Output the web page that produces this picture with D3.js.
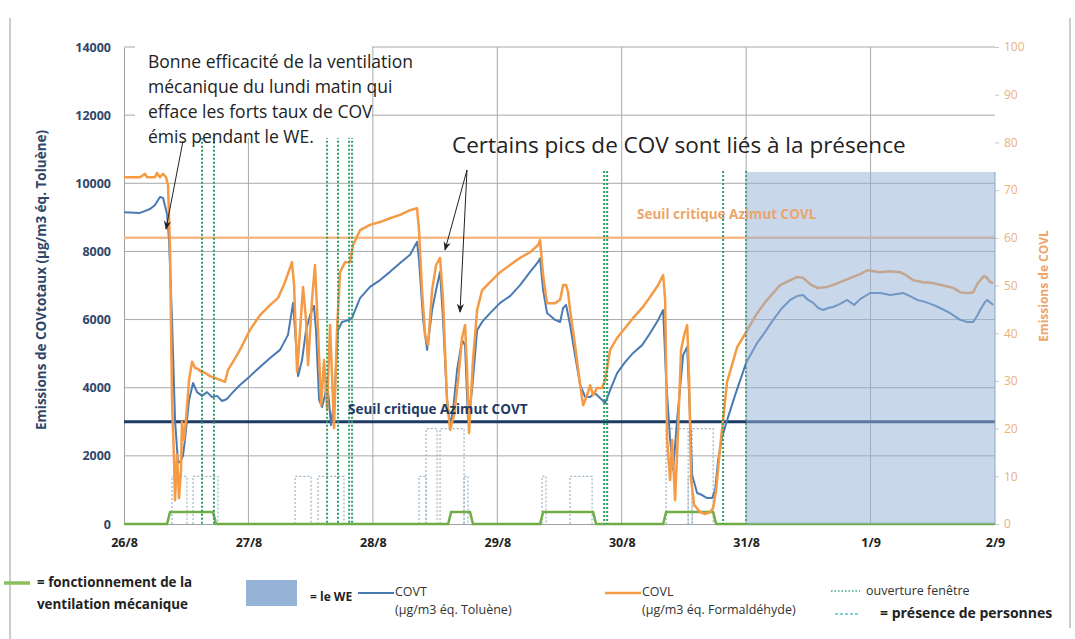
<!DOCTYPE html>
<html>
<head>
<meta charset="utf-8">
<title>COV</title>
<script src="https://d3js.org/d3.v7.min.js"></script>
<style>
  body { margin: 0; background: #fff; }
  svg text { font-family: "Open Sans", sans-serif; }
</style>
</head>
<body>
<div id="chart"></div>
<script>
// jours (axe x en jours depuis le 26/8 0h)
const dayLabels = ["26/8", "27/8", "28/8", "29/8", "30/8", "31/8", "1/9", "2/9"];
const leftTicks = [0, 2000, 4000, 6000, 8000, 10000, 12000, 14000];
const rightTicks = [0, 10, 20, 30, 40, 50, 60, 70, 80, 90, 100];

// COVT en µg/m3 éq. toluène (axe gauche)
const covt = [[0,9150],[0.129,9130],[0.209,9245],[0.249,9360],[0.289,9600],[0.314,9570],[0.346,9100],[0.362,8330],[0.386,5990],[0.410,3050],[0.434,1800],[0.450,1820],[0.474,2000],[0.490,2470],[0.523,3640],[0.555,4140],[0.587,3870],[0.627,3760],[0.667,3870],[0.707,3730],[0.748,3760],[0.788,3610],[0.828,3670],[0.876,3870],[0.932,4080],[1.013,4340],[1.093,4610],[1.174,4870],[1.254,5110],[1.318,5550],[1.359,6490],[1.383,5250],[1.399,4340],[1.431,4810],[1.463,5690],[1.495,6130],[1.527,6400],[1.543,5690],[1.568,3640],[1.592,3430],[1.616,3790],[1.632,4230],[1.664,2900],[1.688,3640],[1.720,5690],[1.752,5930],[1.809,5990],[1.833,6050],[1.897,6630],[1.977,6960],[2.058,7160],[2.138,7400],[2.219,7660],[2.299,7900],[2.355,8280],[2.371,7750],[2.404,5990],[2.436,5110],[2.476,6280],[2.516,7010],[2.540,7400],[2.564,5990],[2.596,3640],[2.621,2900],[2.645,3350],[2.677,4520],[2.717,5400],[2.741,5250],[2.765,3050],[2.797,3930],[2.838,5690],[2.878,5930],[2.942,6190],[3.023,6490],[3.103,6690],[3.183,7010],[3.264,7400],[3.328,7690],[3.344,7800],[3.368,6870],[3.400,6190],[3.465,5990],[3.505,5930],[3.529,6340],[3.553,6430],[3.585,5840],[3.625,4960],[3.666,4080],[3.706,3730],[3.746,3730],[3.786,3840],[3.826,3700],[3.867,3550],[3.907,3930],[3.963,4430],[4.027,4750],[4.092,5020],[4.164,5250],[4.228,5600],[4.293,5990],[4.333,6280],[4.357,4230],[4.389,2470],[4.413,1580],[4.445,3050],[4.494,4960],[4.526,5200],[4.550,3050],[4.566,1440],[4.606,910],[4.646,850],[4.686,760],[4.727,760],[4.751,1000],[4.775,1880],[4.807,2550],[4.847,3050],[4.912,3790],[5.000,4730],[5.088,5310],[5.153,5640],[5.217,5990],[5.289,6340],[5.354,6575],[5.410,6690],[5.458,6720],[5.498,6575],[5.539,6490],[5.579,6340],[5.619,6280],[5.659,6340],[5.699,6370],[5.756,6460],[5.812,6575],[5.868,6430],[5.916,6600],[5.997,6780],[6.077,6780],[6.158,6720],[6.262,6780],[6.318,6690],[6.375,6575],[6.439,6520],[6.503,6430],[6.559,6340],[6.640,6190],[6.720,5990],[6.777,5930],[6.825,5930],[6.857,6110],[6.881,6280],[6.921,6520],[6.937,6575],[6.986,6430]];

// COVL en µg/m3 éq. formaldéhyde (axe droit)
const covl = [[0,72.7],[0.129,72.7],[0.169,73.4],[0.185,72.7],[0.249,72.7],[0.265,73.6],[0.289,72.7],[0.314,73.4],[0.338,72.7],[0.354,71],[0.370,57.4],[0.386,26],[0.402,13.4],[0.410,5],[0.426,14.5],[0.442,5.4],[0.458,11.3],[0.466,21.4],[0.482,17.6],[0.498,21.8],[0.523,30.2],[0.547,34],[0.571,32.7],[0.595,32.5],[0.619,31.9],[0.651,31.7],[0.691,31],[0.732,30.6],[0.772,30.2],[0.812,29.8],[0.836,32.3],[0.876,34],[0.932,36.5],[1.013,40.7],[1.093,43.8],[1.174,45.9],[1.238,47.4],[1.294,50.7],[1.350,54.9],[1.367,50.1],[1.391,31.9],[1.415,40.7],[1.439,49.7],[1.463,42.8],[1.479,33.3],[1.511,47],[1.535,54.3],[1.559,40.7],[1.584,24.9],[1.608,34.4],[1.632,23.9],[1.656,41.7],[1.688,20.1],[1.712,40.7],[1.736,52.8],[1.777,54.9],[1.817,54.9],[1.841,58.5],[1.897,61.6],[1.977,62.7],[2.058,63.3],[2.138,64.1],[2.219,64.8],[2.299,65.8],[2.355,66.2],[2.371,61.6],[2.395,49],[2.420,39.6],[2.444,37.5],[2.476,49],[2.508,54.3],[2.540,55.8],[2.564,47],[2.596,26],[2.621,19.7],[2.653,22.8],[2.685,30.2],[2.717,39],[2.741,41.7],[2.757,32.3],[2.773,19.1],[2.805,34.4],[2.838,44.9],[2.878,49],[2.942,50.7],[3.023,52.8],[3.103,54.3],[3.183,55.8],[3.264,57],[3.328,58.5],[3.344,59.5],[3.368,52.2],[3.400,46.3],[3.465,46.3],[3.505,47],[3.529,50.1],[3.553,50.1],[3.569,48.6],[3.585,44.9],[3.625,37.5],[3.666,29.1],[3.690,24.9],[3.722,27],[3.746,29.1],[3.770,27],[3.802,28.5],[3.842,28.5],[3.867,30.2],[3.907,36.5],[3.963,39],[4.027,41.1],[4.092,43.2],[4.164,45.3],[4.228,47.6],[4.293,50.1],[4.333,52.2],[4.349,47],[4.365,17.6],[4.389,9.2],[4.405,17.6],[4.429,5],[4.453,19.7],[4.477,36.5],[4.502,39.6],[4.526,41.7],[4.542,30.2],[4.558,9.2],[4.582,4],[4.630,2.5],[4.670,2.1],[4.711,2.5],[4.735,3.4],[4.759,7.1],[4.791,16.1],[4.823,23.9],[4.847,29.8],[4.928,37.1],[5.000,40.2],[5.088,44.2],[5.153,46.5],[5.217,48.4],[5.273,50.1],[5.354,51.1],[5.410,51.8],[5.458,51.6],[5.514,50.3],[5.571,49.5],[5.651,49.7],[5.699,50.1],[5.756,50.7],[5.860,51.8],[5.916,52.4],[5.973,53.2],[6.077,52.8],[6.158,53],[6.238,52.8],[6.294,52],[6.342,51.1],[6.423,50.7],[6.503,50.5],[6.600,49.9],[6.664,49.5],[6.720,48.6],[6.777,48.4],[6.825,48.6],[6.857,50.3],[6.881,51.1],[6.913,52],[6.937,51.6],[6.961,50.7],[6.986,50.5]];

// ventilation mécanique en marche [début, fin], niveau sur axe droit
const ventilation = [[0.346, 0.740], [2.605, 2.805], [3.344, 3.794], [4.333, 4.759]];
const ventLevel = 2.5;
// présence de personnes [début, fin, niveau axe droit]
const presence = [[0.386,0.506,10],[0.555,0.756,10],[1.375,1.503,10],[1.559,1.768,10],[2.371,2.428,10],[2.428,2.516,20],[2.540,2.733,20],[2.733,2.765,10],[3.360,3.392,10],[3.585,3.762,10],[4.357,4.534,20],[4.534,4.566,10],[4.566,4.735,20]];
// ouverture fenêtre [instant, hauteur axe droit]
const windows = [[0.627,81],[0.723,81],[1.632,82],[1.720,82],[1.809,82],[1.833,82],[3.859,74],[3.883,74],[4.815,74],[5.000,74]];
// week-end [début, fin, haut axe droit]
const weekend = [5, 7, 73.8];
const seuilCOVT = 3000;
const seuilCOVL = 60;

const W = 1075, H = 639;
const svg = d3.select("#chart").append("svg").attr("width", W).attr("height", H);

const x = d3.scaleLinear().domain([0, 7]).range([124, 995]);
const yL = d3.scaleLinear().domain([0, 14000]).range([524, 47]);
const yR = d3.scaleLinear().domain([0, 100]).range([524, 47]);

// cadre
svg.append("line").attr("x1", 10).attr("x2", 10).attr("y1", 18).attr("y2", 639).attr("stroke", "#9a9a9a");
svg.append("line").attr("x1", 1070).attr("x2", 1070).attr("y1", 18).attr("y2", 628).attr("stroke", "#9a9a9a");

// grille
svg.append("g").selectAll("line").data(leftTicks.slice(1)).join("line")
  .attr("x1", x(0)).attr("x2", x(7))
  .attr("y1", d => yL(d)).attr("y2", d => yL(d))
  .attr("stroke", "#a8a8a8").attr("stroke-width", 1);
svg.append("g").selectAll("line").data(d3.range(1, 7)).join("line")
  .attr("x1", d => x(d)).attr("x2", d => x(d))
  .attr("y1", yL(14000)).attr("y2", yL(0))
  .attr("stroke", "#a8a8a8").attr("stroke-width", 1);

// axes
const axL = svg.append("g").attr("transform", `translate(${x(0)},0)`)
  .call(d3.axisLeft(yL).tickValues(leftTicks).tickFormat(d3.format("d")).tickSize(0).tickPadding(13));
axL.select(".domain").attr("stroke", "#a0a0a0");
axL.selectAll("text").attr("fill", "#2f4769").attr("font-size", 12.5).attr("font-weight", "bold");

const axR = svg.append("g").attr("transform", `translate(${x(7)},0)`)
  .call(d3.axisRight(yR).tickValues(rightTicks).tickSize(4).tickPadding(5));
axR.select(".domain").remove();
axR.selectAll("line").attr("stroke", "#c8c8c8");
axR.selectAll("text").attr("fill", "#ecb07c").attr("font-size", 12);

const axB = svg.append("g").attr("transform", `translate(0,${yL(0)})`)
  .call(d3.axisBottom(x).tickValues(d3.range(0, 8)).tickFormat(i => dayLabels[i]).tickSize(0).tickPadding(14));
axB.select(".domain").attr("stroke", "#a0a0a0");
axB.selectAll("text").attr("fill", "#222").attr("font-size", 12.5).attr("font-weight", "bold");

// titres d'axes
svg.append("text").attr("transform", `translate(46,${280}) rotate(-90)`)
  .attr("text-anchor", "middle").attr("font-size", 13.5).attr("font-weight", "bold").attr("fill", "#2f4769")
  .text("Emissions de COVtotaux (µg/m3 éq. Toluène)");
svg.append("text").attr("transform", `translate(1048,${286}) rotate(-90)`)
  .attr("text-anchor", "middle").attr("font-size", 12).attr("font-weight", "bold").attr("fill", "#eba46a")
  .text("Emissions de COVL");

// présence de personnes
svg.append("g").selectAll("path").data(presence).join("path")
  .attr("d", d => d3.line()([[x(d[0]), yR(0)], [x(d[0]), yR(d[2])], [x(d[1]), yR(d[2])], [x(d[1]), yR(0)]]))
  .attr("fill", "none").attr("stroke", "#9fb3c2").attr("stroke-width", 1.2).attr("stroke-dasharray", "2,2");

// ventilation
const ventPts = [[0, 0]];
ventilation.forEach(p => {
  ventPts.push([p[0], 0], [p[0] + 0.024, ventLevel], [p[1] - 0.024, ventLevel], [p[1], 0]);
});
ventPts.push([7, 0]);
svg.append("path").datum(ventPts)
  .attr("d", d3.line().x(d => x(d[0])).y(d => yR(d[1])))
  .attr("fill", "none").attr("stroke", "#70ad47").attr("stroke-width", 2.5);

// seuils
svg.append("line").attr("x1", x(0)).attr("x2", x(7)).attr("y1", yR(seuilCOVL)).attr("y2", yR(seuilCOVL))
  .attr("stroke", "#f6b988").attr("stroke-width", 2.5);
svg.append("line").attr("x1", x(0)).attr("x2", x(7)).attr("y1", yL(seuilCOVT)).attr("y2", yL(seuilCOVT))
  .attr("stroke", "#1f3a64").attr("stroke-width", 3);

// courbes
svg.append("path").datum(covt)
  .attr("d", d3.line().x(d => x(d[0])).y(d => yL(d[1])))
  .attr("fill", "none").attr("stroke", "#4a7ab4").attr("stroke-width", 2).attr("stroke-linejoin", "round");
svg.append("path").datum(covl)
  .attr("d", d3.line().x(d => x(d[0])).y(d => yR(d[1])))
  .attr("fill", "none").attr("stroke", "#f59a45").attr("stroke-width", 2.5).attr("stroke-linejoin", "round");

// ouverture fenêtre
svg.append("g").selectAll("line").data(windows).join("line")
  .attr("x1", d => x(d[0])).attr("x2", d => x(d[0]))
  .attr("y1", d => yR(d[1])).attr("y2", yR(0))
  .attr("stroke", "#2e9e66").attr("stroke-width", 2).attr("stroke-dasharray", "2,2");

// week-end
svg.append("rect").attr("x", x(weekend[0])).attr("y", yR(weekend[2]))
  .attr("width", x(weekend[1]) - x(weekend[0])).attr("height", yR(0) - yR(weekend[2]))
  .attr("fill", "#95b3d7").attr("opacity", 0.52);
svg.append("line").attr("x1", x(weekend[1])).attr("x2", x(weekend[1]))
  .attr("y1", yR(weekend[2])).attr("y2", yR(0)).attr("stroke", "#8fa6c4");

// libellés des seuils
svg.append("text").attr("x", 348).attr("y", yL(seuilCOVT) - 8)
  .attr("font-size", 13.5).attr("font-weight", "bold").attr("fill", "#1f3a64")
  .text("Seuil critique Azimut COVT");
svg.append("text").attr("x", 637).attr("y", yR(seuilCOVL) - 19)
  .attr("font-size", 13.5).attr("font-weight", "bold").attr("fill", "#eba66c")
  .text("Seuil critique Azimut COVL");

// annotations
svg.append("defs").append("marker").attr("id", "arrow")
  .attr("viewBox", "0 0 10 10").attr("refX", 9).attr("refY", 5)
  .attr("markerWidth", 9).attr("markerHeight", 9).attr("orient", "auto")
  .append("path").attr("d", "M0,1 L10,5 L0,9 L3,5 Z").attr("fill", "#222");

svg.append("rect").attr("x", 135).attr("y", 38).attr("width", 237).attr("height", 100).attr("fill", "#fff");
const note1 = ["Bonne efficacité de la ventilation", "mécanique du lundi matin qui",
  "efface les forts taux de COV", "émis pendant le WE."];
svg.append("g").selectAll("text").data(note1).join("text")
  .attr("x", 148).attr("y", (d, i) => 68 + i * 25)
  .attr("font-size", 17.5).attr("fill", "#222").text(d => d);
svg.append("line").attr("x1", 183).attr("y1", 141).attr("x2", 166).attr("y2", 229)
  .attr("stroke", "#222").attr("stroke-width", 1).attr("marker-end", "url(#arrow)");

svg.append("text").attr("x", 452).attr("y", 153)
  .attr("font-size", 22.5).attr("fill", "#222").text("Certains pics de COV sont liés à la présence");
svg.append("line").attr("x1", 467).attr("y1", 170).attr("x2", 445).attr("y2", 250)
  .attr("stroke", "#222").attr("stroke-width", 1).attr("marker-end", "url(#arrow)");
svg.append("line").attr("x1", 467).attr("y1", 170).attr("x2", 460).attr("y2", 312)
  .attr("stroke", "#222").attr("stroke-width", 1).attr("marker-end", "url(#arrow)");

// légende
const lg = svg.append("g");
lg.append("line").attr("x1", 4).attr("x2", 30).attr("y1", 583).attr("y2", 583).attr("stroke", "#8cbf5c").attr("stroke-width", 3.5);
lg.append("text").attr("x", 37).attr("y", 587).attr("font-size", 13.4).attr("font-weight", "bold").attr("fill", "#222").text("= fonctionnement de la");
lg.append("text").attr("x", 37).attr("y", 609).attr("font-size", 13.4).attr("font-weight", "bold").attr("fill", "#222").text("ventilation mécanique");
lg.append("rect").attr("x", 246).attr("y", 580).attr("width", 51).attr("height", 26).attr("fill", "#95b3d7");
lg.append("text").attr("x", 310).attr("y", 601).attr("font-size", 12).attr("font-weight", "bold").attr("fill", "#222").text("= le WE");
lg.append("line").attr("x1", 358).attr("x2", 394).attr("y1", 593).attr("y2", 593).attr("stroke", "#4a7ab4").attr("stroke-width", 2);
lg.append("text").attr("x", 395).attr("y", 596).attr("font-size", 12.5).attr("fill", "#333").text("COVT");
lg.append("text").attr("x", 395).attr("y", 614).attr("font-size", 12.5).attr("fill", "#333").text("(µg/m3 éq. Toluène)");
lg.append("line").attr("x1", 605).attr("x2", 641).attr("y1", 593).attr("y2", 593).attr("stroke", "#f59a45").attr("stroke-width", 2.5);
lg.append("text").attr("x", 642).attr("y", 596).attr("font-size", 12.5).attr("fill", "#333").text("COVL");
lg.append("text").attr("x", 642).attr("y", 614).attr("font-size", 12.5).attr("fill", "#333").text("(µg/m3 éq. Formaldéhyde)");
lg.append("line").attr("x1", 831).attr("x2", 860).attr("y1", 591).attr("y2", 591).attr("stroke", "#3aa67a").attr("stroke-width", 1.5).attr("stroke-dasharray", "1.5,2");
lg.append("text").attr("x", 866).attr("y", 595).attr("font-size", 12.5).attr("fill", "#333").text("ouverture fenêtre");
lg.append("line").attr("x1", 835).attr("x2", 860).attr("y1", 614).attr("y2", 614).attr("stroke", "#5cc0d2").attr("stroke-width", 1.5).attr("stroke-dasharray", "3,2");
lg.append("text").attr("x", 880).attr("y", 618).attr("font-size", 14).attr("font-weight", "bold").attr("fill", "#222").text("= présence de personnes");
</script>
</body>
</html>
